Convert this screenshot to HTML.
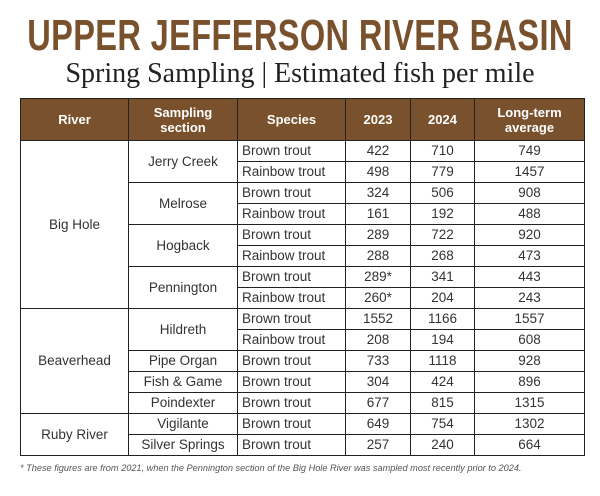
<!DOCTYPE html>
<html><head><meta charset="utf-8"><style>
body{margin:0;width:600px;height:496px;background:#fff;position:relative;overflow:hidden;font-family:"Liberation Sans",sans-serif}
.t{position:absolute;left:0;width:600px;text-align:center;white-space:nowrap}
h1{position:absolute;left:300px;top:11px;margin:0;font-size:44px;font-weight:bold;color:#7a512d;letter-spacing:0.5px;white-space:nowrap;transform:translateX(-50%) scaleX(0.74);transform-origin:center}
table{position:absolute;left:20px;top:98px;border-collapse:collapse;table-layout:fixed;width:564px}
td,th{border:1px solid #222;padding:0;text-align:center;font-size:13.5px;color:#333;height:20px;line-height:20px}
th{background:#7a512d;color:#fff;font-weight:bold;font-size:13px;line-height:15px;height:41px}
td.s{text-align:left;padding-left:4px}
.foot{position:absolute;left:20px;top:463px;font-size:9.2px;font-style:italic;color:#555;white-space:nowrap}
</style></head><body>
<h1>UPPER JEFFERSON RIVER BASIN</h1>
<div class="t" style="top:58px;font-family:'Liberation Serif',serif;font-size:28px;color:#222">Spring Sampling | Estimated fish per mile</div>
<table>
<colgroup><col style="width:108px"><col style="width:109px"><col style="width:108px"><col style="width:65px"><col style="width:64px"><col style="width:110px"></colgroup>
<tr><th>River</th><th>Sampling<br>section</th><th>Species</th><th>2023</th><th>2024</th><th>Long-term<br>average</th></tr>
<tr><td rowspan="8">Big Hole</td><td rowspan="2">Jerry Creek</td><td class="s">Brown trout</td><td>422</td><td>710</td><td>749</td></tr>
<tr><td class="s">Rainbow trout</td><td>498</td><td>779</td><td>1457</td></tr>
<tr><td rowspan="2">Melrose</td><td class="s">Brown trout</td><td>324</td><td>506</td><td>908</td></tr>
<tr><td class="s">Rainbow trout</td><td>161</td><td>192</td><td>488</td></tr>
<tr><td rowspan="2">Hogback</td><td class="s">Brown trout</td><td>289</td><td>722</td><td>920</td></tr>
<tr><td class="s">Rainbow trout</td><td>288</td><td>268</td><td>473</td></tr>
<tr><td rowspan="2">Pennington</td><td class="s">Brown trout</td><td>289*</td><td>341</td><td>443</td></tr>
<tr><td class="s">Rainbow trout</td><td>260*</td><td>204</td><td>243</td></tr>
<tr><td rowspan="5">Beaverhead</td><td rowspan="2">Hildreth</td><td class="s">Brown trout</td><td>1552</td><td>1166</td><td>1557</td></tr>
<tr><td class="s">Rainbow trout</td><td>208</td><td>194</td><td>608</td></tr>
<tr><td>Pipe Organ</td><td class="s">Brown trout</td><td>733</td><td>1118</td><td>928</td></tr>
<tr><td>Fish &amp; Game</td><td class="s">Brown trout</td><td>304</td><td>424</td><td>896</td></tr>
<tr><td>Poindexter</td><td class="s">Brown trout</td><td>677</td><td>815</td><td>1315</td></tr>
<tr><td rowspan="2">Ruby River</td><td>Vigilante</td><td class="s">Brown trout</td><td>649</td><td>754</td><td>1302</td></tr>
<tr><td>Silver Springs</td><td class="s">Brown trout</td><td>257</td><td>240</td><td>664</td></tr>
</table>
<div class="foot">* These figures are from 2021, when the Pennington section of the Big Hole River was sampled most recently prior to 2024.</div>
</body></html>
